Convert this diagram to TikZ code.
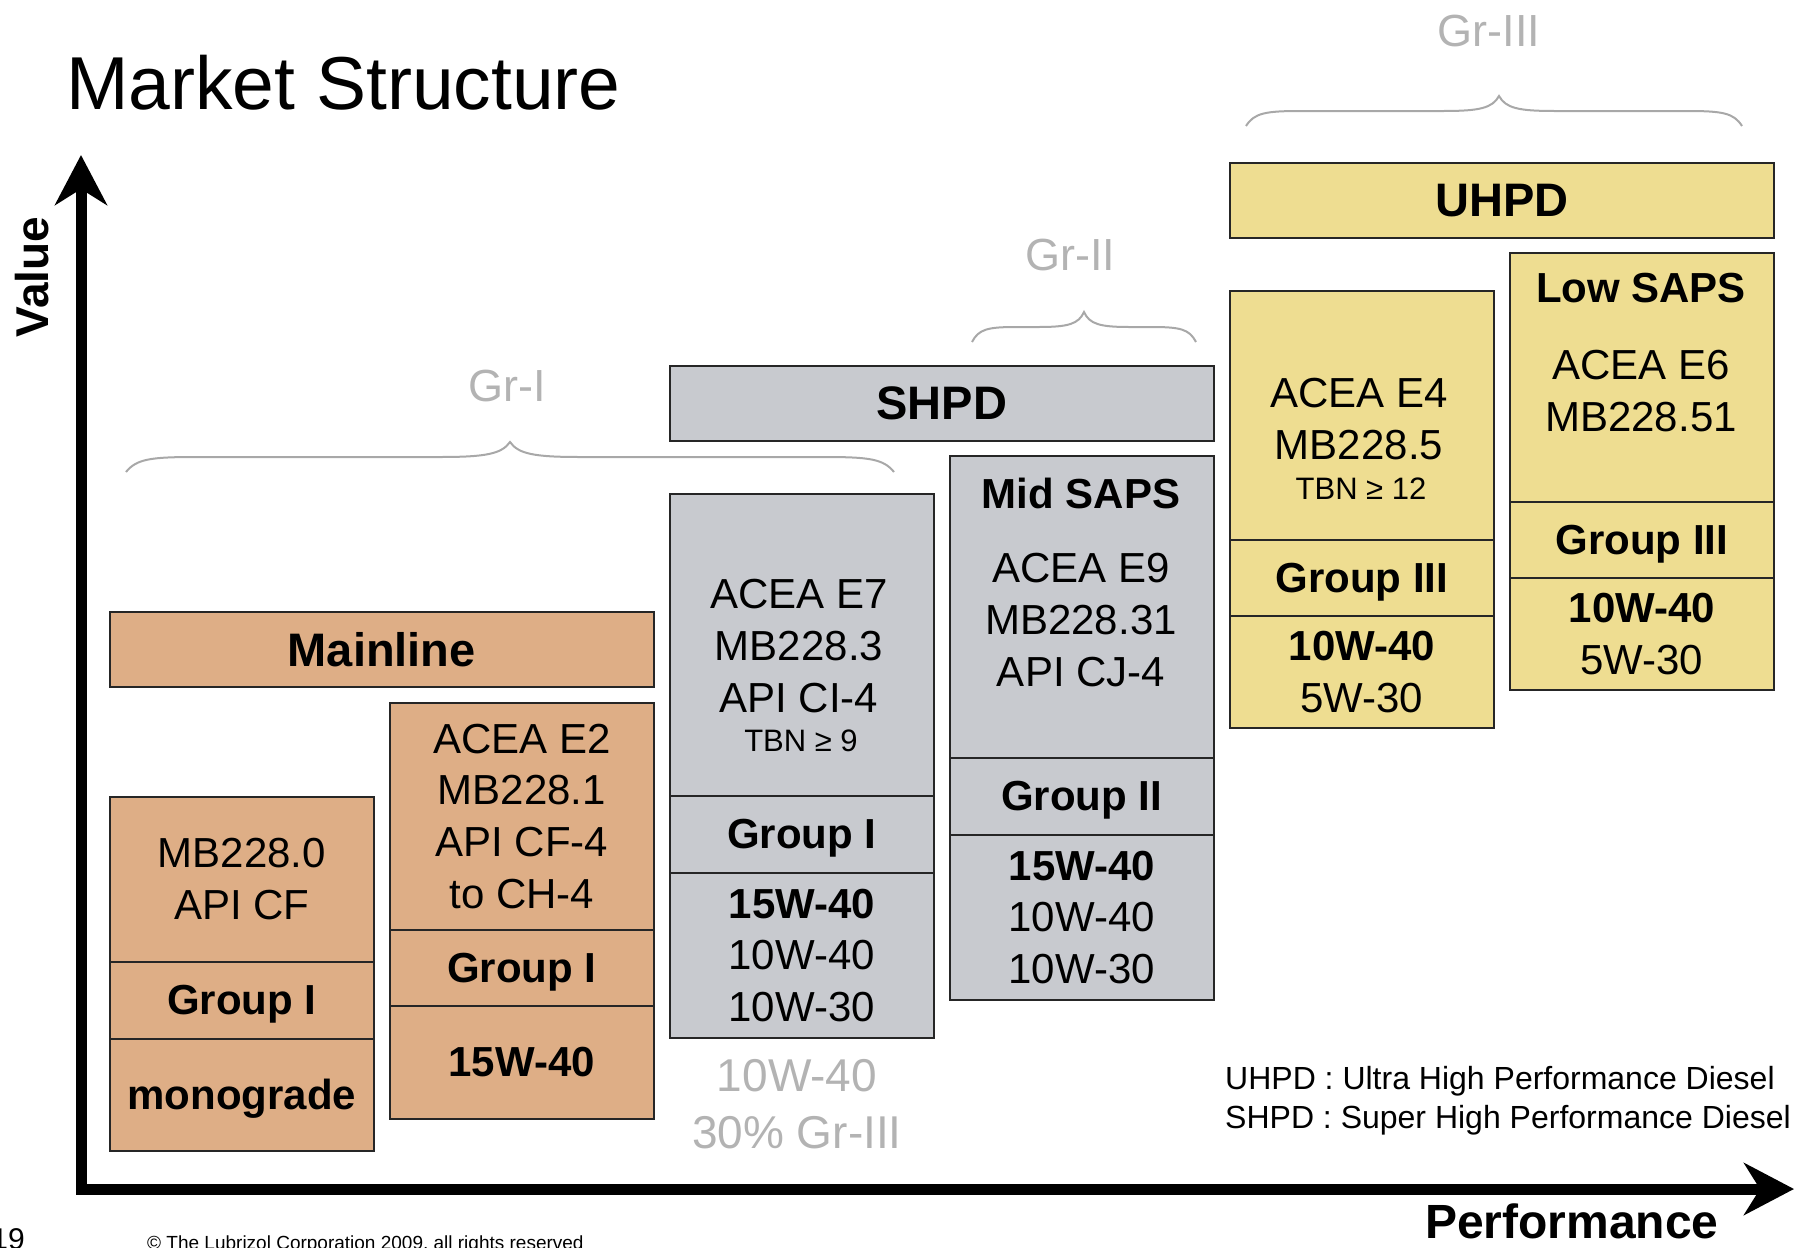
\documentclass[tikz,border=0pt]{standalone}
\usepackage{fontspec}
\setmainfont{Liberation Sans}
\usetikzlibrary{arrows.meta}
\definecolor{mainfill}{HTML}{DEAE86}
\definecolor{shpdfill}{HTML}{C8CACF}
\definecolor{uhpdfill}{HTML}{EEDD91}
\definecolor{grtext}{HTML}{B3B3B3}
\definecolor{grline}{HTML}{A8A8A8}
\newcommand{\grbrace}[5]{%
  \draw[gbrace] (#1,#4+15) .. controls (#1+0.15*#5,#4+2) and (#1+0.35*#5,#4) .. (#1+#5,#4)
    -- (#2-#5,#4) .. controls (#2-0.35*#5,#4) and (#2-0.12*#5,#4-3) .. (#2,#4-15)
    .. controls (#2+0.12*#5,#4-3) and (#2+0.35*#5,#4) .. (#2+#5,#4)
    -- (#3-#5,#4) .. controls (#3-0.35*#5,#4) and (#3-0.15*#5,#4+2) .. (#3,#4+15);}
\begin{document}
\begin{tikzpicture}[x=1pt, y=-1pt,
  part/.style={draw=black!85, line width=1.5pt, anchor=north west, minimum width=264pt, inner sep=0pt, align=center, font=\fontsize{42}{51.6}\selectfont},
  grp/.style={part, text depth=0pt, font=\fontsize{42}{51.6}\selectfont\bfseries},
  head/.style={part, minimum width=544pt, minimum height=75pt, text depth=0pt, font=\fontsize{47}{56}\selectfont\bfseries},
  spec/.style={inner sep=0pt, align=center, font=\fontsize{42}{51.6}\selectfont},
  tbn/.style={inner sep=0pt, font=\fontsize{31}{37}\selectfont},
  grlabel/.style={inner sep=0pt, text=grtext, align=center, font=\fontsize{46}{57}\selectfont},
  gbrace/.style={draw=grline, line width=2pt},
  axis/.style={line width=11pt, {Stealth[length=50pt,width=52pt,inset=16pt]}-{Stealth[length=50pt,width=52pt,inset=16pt]}}]
\useasboundingbox (0,0) rectangle (1798,1247);
\node[anchor=base west, inner sep=0pt, font=\fontsize{75}{90}\selectfont] (ttl) at (66,109) {Market Structure};
\coordinate (orig) at (81,1189);
\coordinate (ytip) at (81,155);
\coordinate (xtip) at (1794,1189);
\draw[axis] (ytip) -- (orig) -- (xtip);
\node[rotate=90, inner sep=0pt, font=\fontsize{46}{55}\selectfont\bfseries] (val) at (32,277) {Value};
\node[anchor=base west, inner sep=0pt, font=\fontsize{48}{58}\selectfont\bfseries] (perf) at (1425,1238) {Performance};
\node[head, fill=mainfill] (hd0) at (109,611) {Mainline};
\node[head, fill=shpdfill] (hd1) at (669,365) {SHPD};
\node[head, fill=uhpdfill] (hd2) at (1229,162) {UHPD};
\node[part, fill=mainfill, minimum height=165pt] (c0a) at (109,796) {MB228.0\\API CF};
\node[grp, fill=mainfill, minimum height=77pt] (c0b) at (109,961) {Group I};
\node[grp, fill=mainfill, minimum height=112pt] (c0c) at (109,1038) {monograde};
\node[part, fill=mainfill, minimum height=227pt] (c1a) at (389,702) {ACEA E2\\MB228.1\\API CF-4\\to CH-4};
\node[grp, fill=mainfill, minimum height=76pt] (c1b) at (389,929) {Group I};
\node[grp, fill=mainfill, minimum height=113pt] (c1c) at (389,1005) {15W-40};
\node[part, fill=shpdfill, minimum height=302pt] (c2a) at (669,493) {};
\node[grp, fill=shpdfill, minimum height=77pt] (c2b) at (669,795) {Group I};
\node[part, fill=shpdfill, minimum height=165pt] (c2c) at (669,872) {\textbf{15W-40}\\10W-40\\10W-30};
\node[spec] (s2) at (799,646) {ACEA E7\\MB228.3\\API CI-4};
\node[tbn] (tbn2) at (801,741) {TBN ≥ 9};
\node[part, fill=shpdfill, minimum height=302pt] (c3a) at (949,455) {};
\node[grp, fill=shpdfill, minimum height=77pt] (c3b) at (949,757) {Group II};
\node[part, fill=shpdfill, minimum height=165pt] (c3c) at (949,834) {\textbf{15W-40}\\10W-40\\10W-30};
\node[spec, text depth=0pt, font=\fontsize{42}{51.6}\selectfont\bfseries] (saps3) at (1081,493) {Mid SAPS};
\node[spec] (s3) at (1081,620) {ACEA E9\\MB228.31\\API CJ-4};
\node[part, fill=uhpdfill, minimum height=249pt] (c4a) at (1229,290) {};
\node[grp, fill=uhpdfill, minimum height=76pt] (c4b) at (1229,539) {Group III};
\node[part, fill=uhpdfill, minimum height=112pt] (c4c) at (1229,615) {\textbf{10W-40}\\5W-30};
\node[spec] (s4) at (1359,419) {ACEA E4\\MB228.5};
\node[tbn] (tbn4) at (1361,489) {TBN ≥ 12};
\node[part, fill=uhpdfill, minimum height=249pt] (c5a) at (1509,252) {};
\node[grp, fill=uhpdfill, minimum height=76pt] (c5b) at (1509,501) {Group III};
\node[part, fill=uhpdfill, minimum height=112pt] (c5c) at (1509,577) {\textbf{10W-40}\\5W-30};
\node[spec, text depth=0pt, font=\fontsize{42}{51.6}\selectfont\bfseries] (saps5) at (1641,288) {Low SAPS};
\node[spec] (s5) at (1641,391) {ACEA E6\\MB228.51};
\node[grlabel] (mix) at (797,1104) {10W-40\\30\% Gr-III};
\grbrace{126}{510}{894}{457}{70}
\grbrace{972}{1084}{1196}{327}{45}
\grbrace{1246}{1499}{1742}{111}{55}
\node[grlabel, font=\fontsize{45}{54}\selectfont] (gr1) at (507,386) {Gr-I};
\node[grlabel, font=\fontsize{45}{54}\selectfont] (gr2) at (1070,255) {Gr-II};
\node[grlabel, font=\fontsize{45}{54}\selectfont] (gr3) at (1489,31) {Gr-III};
\node[anchor=west, inner sep=0pt, align=left, font=\fontsize{32}{39}\selectfont] (lgd) at (1225,1101) {UHPD : Ultra High Performance Diesel\\SHPD : Super High Performance Diesel};
\node[anchor=base west, inner sep=0pt, font=\fontsize{19}{22}\selectfont] (cpy) at (147,1249) {© The Lubrizol Corporation 2009, all rights reserved};
\node[anchor=base east, inner sep=0pt, font=\fontsize{30}{36}\selectfont] (pg) at (25,1249) {19};
\end{tikzpicture}
\end{document}
